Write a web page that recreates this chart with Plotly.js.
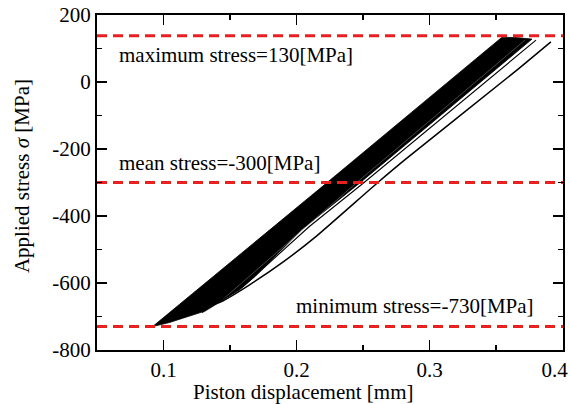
<!DOCTYPE html>
<html>
<head>
<meta charset="utf-8">
<script src="https://cdn.plot.ly/plotly-3.0.1.min.js"></script>
<style>
html,body{margin:0;padding:0;background:#fff;}
#chart{width:570px;height:404px;}
</style>
</head>
<body>
<div id="chart"></div>
<script>
// Outline of the dense band of ratcheting cycles
const bandX = [0.0918, 0.2230, 0.3542, 0.3640, 0.3770, 0.3100, 0.2480, 0.2040, 0.1690, 0.1570, 0.1420, 0.1295, 0.1145, 0.1045, 0.0918];
const bandY = [-730, -300, 133, 133, 128, -94, -300, -440, -580, -621, -656, -686, -705, -718, -730];

// First loading curve (separate thin line on the right)
const firstX = [0.1380, 0.1432, 0.1644, 0.1900, 0.2150, 0.2611, 0.2818, 0.3642, 0.3912];
const firstY = [-664, -656, -606, -537, -460, -300, -231, 31, 120];

// Second cycle line running just right of the band
const secondX = [0.1290, 0.1370, 0.1600, 0.2094, 0.2508, 0.3800];
const secondY = [-688, -669, -610, -432, -300, 125];

// Faint gap visible inside the band
const gapX = [0.1310, 0.1420, 0.2453, 0.3720];
const gapY = [-686, -658, -300, 126];

// Reference stress levels
const levelY = [138, -300, -730];
const levelNames = ['maximum stress=130[MPa]', 'mean stress=-300[MPa]', 'minimum stress=-730[MPa]'];
const labelX = [0.0650, 0.0650, 0.1981];
const labelY = [80, -242, -668];

const xTickVals = [0.1, 0.2, 0.3, 0.4];
const xTickText = ['0.1', '0.2', '0.3', '0.4\u00a0\u00a0\u00a0'];
const xMinorVals = [0.05, 0.15, 0.25, 0.35];
const yTickVals = [200, 0, -200, -400, -600, -800];
const yTickText = ['200', '0', '-200', '-400', '-600', '-800'];
const yMinorVals = [100, -100, -300, -500, -700];

const xRange = [0.05, 0.4003];
const yRange = [-800, 200];

const FONT = "'Liberation Serif', 'Times New Roman', serif";
const RED = 'rgb(232,32,32)';

const traces = [];
traces.push({x: bandX, y: bandY, mode: 'lines', fill: 'toself', fillcolor: '#000',
  line: {color: '#000', width: 0.8}, hoverinfo: 'skip', showlegend: false});
traces.push({x: gapX, y: gapY, mode: 'lines', line: {color: '#8a8a8a', width: 0.5},
  hoverinfo: 'skip', showlegend: false});
traces.push({x: secondX, y: secondY, mode: 'lines', line: {color: '#000', width: 1.1},
  hoverinfo: 'skip', showlegend: false});
traces.push({x: firstX, y: firstY, mode: 'lines', line: {color: '#000', width: 1.5, shape: 'spline', smoothing: 0.5},
  hoverinfo: 'skip', showlegend: false});
levelY.forEach(function(v){
  traces.push({x: [xRange[0], xRange[1]], y: [v, v], mode: 'lines',
    line: {color: RED, width: 3, dash: '10px,6px'}, hoverinfo: 'skip', showlegend: false});
});

const annotations = levelNames.map(function(t, i){
  return {text: t, x: labelX[i], y: labelY[i], xref: 'x', yref: 'y',
    xanchor: 'left', yanchor: 'middle', showarrow: false,
    font: {family: FONT, size: 21, color: '#000'}};
});
annotations.push({text: 'Piston displacement [mm]', xref: 'paper', yref: 'paper',
  x: 0.441, y: -0.125, xanchor: 'center', yanchor: 'middle', showarrow: false,
  font: {family: FONT, size: 21, color: '#000'}});
annotations.push({text: 'Applied stress <i>σ</i> [MPa]', xref: 'paper', yref: 'paper',
  x: -0.161, y: 0.519, xanchor: 'center', yanchor: 'middle', showarrow: false, textangle: -90,
  font: {family: FONT, size: 21, color: '#000'}});

const axisCommon = {
  showgrid: false, zeroline: false, showline: true, linecolor: '#000', linewidth: 2,
  ticks: 'inside', ticklen: 10, tickwidth: 1.5, tickcolor: '#000', mirror: 'allticks',
  ticklabeloverflow: 'allow',
  tickfont: {family: FONT, size: 21, color: '#000'}
};

const layout = {
  width: 570, height: 404,
  margin: {l: 97, r: 7, t: 15, b: 54},
  paper_bgcolor: '#fff', plot_bgcolor: '#fff',
  showlegend: false,
  xaxis: Object.assign({}, axisCommon, {range: xRange, tickmode: 'array', tickvals: xTickVals, ticktext: xTickText,
    minor: {tickmode: 'array', tickvals: xMinorVals, ticks: 'inside', ticklen: 5, tickwidth: 1.5, tickcolor: '#000'}}),
  yaxis: Object.assign({}, axisCommon, {range: yRange, tickmode: 'array', tickvals: yTickVals, ticktext: yTickText,
    minor: {tickmode: 'array', tickvals: yMinorVals, ticks: 'inside', ticklen: 5, tickwidth: 1.5, tickcolor: '#000'}}),
  annotations: annotations
};

Plotly.newPlot('chart', traces, layout, {staticPlot: true, displayModeBar: false});
</script>
</body>
</html>
